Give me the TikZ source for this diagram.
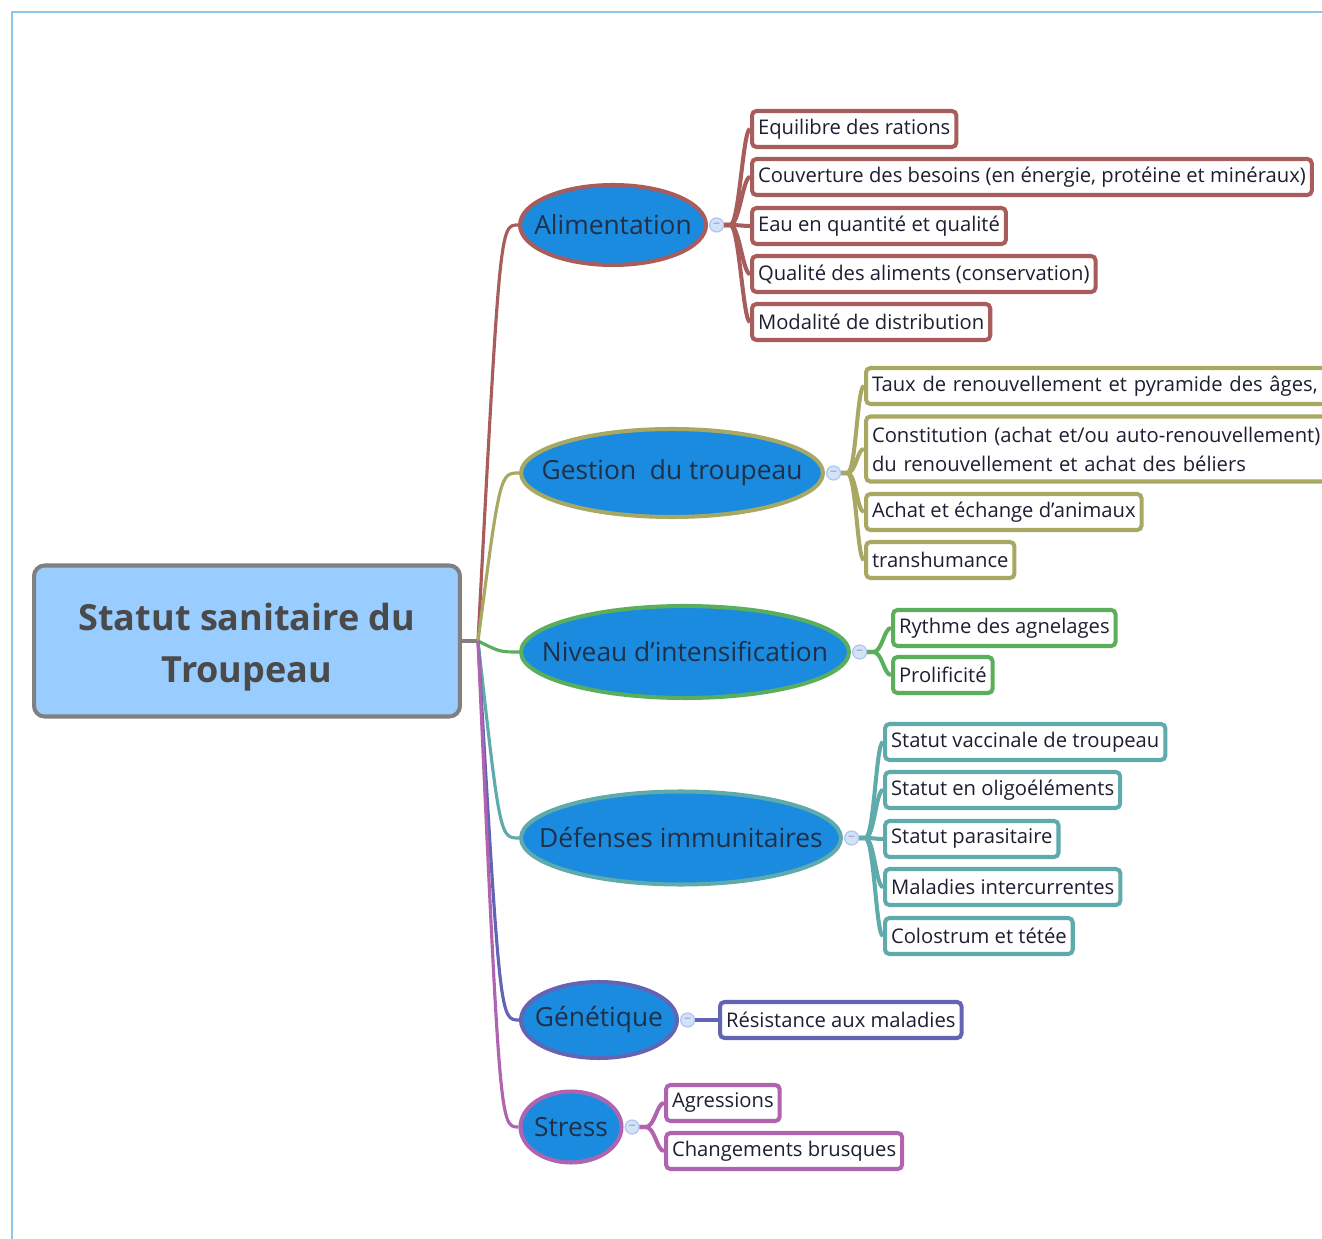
\documentclass[tikz,border=0pt]{standalone}
\usepackage{fontspec}
\setmainfont{Open Sans}
\usetikzlibrary{shapes.geometric, positioning}

\definecolor{framec}{HTML}{8EC5E8}
\definecolor{rootfill}{HTML}{99CCFF}
\definecolor{rootline}{HTML}{808080}
\definecolor{roottext}{HTML}{4A4A4A}
\definecolor{topicfill}{HTML}{1B8BE0}
\definecolor{topictext}{HTML}{1F3048}
\definecolor{leaftext}{HTML}{1E1E32}
\definecolor{foldfill}{HTML}{D3E1F9}
\definecolor{foldline}{HTML}{AFC6EE}
\definecolor{foldmark}{HTML}{8AA4D0}
\definecolor{alim}{HTML}{A85C5C}
\definecolor{gest}{HTML}{A8A862}
\definecolor{nive}{HTML}{5BAE5B}
\definecolor{defe}{HTML}{5FAAAA}
\definecolor{gene}{HTML}{6464B4}
\definecolor{stre}{HTML}{B064B0}

\tikzset{
  root/.style={draw=rootline, fill=rootfill, line width=2.3pt, rounded corners=6pt,
    minimum width=8.52cm, minimum height=3.02cm, align=center, text=roottext,
    font=\fontsize{20.5}{30}\selectfont\bfseries},
  theme/.style={ellipse, draw=#1, fill=topicfill, line width=2.3pt, inner sep=0pt,
    text=topictext, font=\fontsize{15}{17}\selectfont},
  leaf/.style={draw=#1, fill=white, line width=2.3pt, rounded corners=2.5pt, anchor=west,
    minimum height=0.72cm, inner xsep=0.12cm, text=leaftext, align=left,
    font=\fontsize{11.5}{16.5}\selectfont},
  fold/.style={circle, draw=foldline, fill=foldfill, line width=0.7pt, minimum size=0.28cm,
    inner sep=0pt, text=foldmark, font=\fontsize{8}{8}\selectfont},
  limb/.style={draw=#1, line width=1.8pt},
  twig/.style={draw=#1, line width=2.3pt}
}

\begin{document}
\begin{tikzpicture}[x=0.02cm, y=-0.02cm]
\useasboundingbox (0,0) rectangle (1322,1239);
\draw[framec, line width=1.2pt] (12,1239) -- (12,12) -- (1322,12);

\node[root] (root) at (247,641) {\rule{0pt}{22.5pt}Statut sanitaire du\\Troupeau};
\coordinate (hub) at (478,641);
\coordinate (bend) at (500,641);

\node[theme=alim, minimum width=3.72cm, minimum height=1.6cm] (alim) at (613,225) {\makebox[0pt]{Alimentation}};
\node[theme=gest, minimum width=6.04cm, minimum height=1.76cm] (gest) at (672,473) {\makebox[0pt]{Gestion~ du troupeau}};
\node[theme=nive, minimum width=6.56cm, minimum height=1.84cm] (nive) at (685,652) {\makebox[0pt]{Niveau d’intensification}};
\node[theme=defe, minimum width=6.4cm, minimum height=1.86cm] (defe) at (681,838) {\makebox[0pt]{Défenses immunitaires}};
\node[theme=gene, minimum width=3.12cm, minimum height=1.52cm] (gene) at (599,1020) {\makebox[0pt]{Génétique}};
\node[theme=stre, minimum width=2.02cm, minimum height=1.42cm] (stre) at (571,1127) {\makebox[0pt]{Stress}};

\node[fold, right=0.02cm of alim] (falim) {–};
\node[fold, right=0.02cm of gest] (fgest) {–};
\node[fold, right=0.02cm of nive] (fnive) {–};
\node[fold, right=0.02cm of defe] (fdefe) {–};
\node[fold, right=0.02cm of gene] (fgene) {–};
\node[fold, right=0.02cm of stre] (fstre) {–};

\node[leaf=alim] (alim1) at (750,129) {Equilibre des rations};
\node[leaf=alim] (alim2) at (750,177) {Couverture des besoins (en énergie, protéine et minéraux)};
\node[leaf=alim] (alim3) at (750,226) {Eau en quantité et qualité};
\node[leaf=alim] (alim4) at (750,274) {Qualité des aliments (conservation)};
\node[leaf=alim] (alim5) at (750,322) {Modalité de distribution};

\node[leaf=gest, text width=9.16cm] (gest1) at (864,386) {Taux de renouvellement et pyramide des âges,};
\node[leaf=gest, text width=9.16cm, minimum height=1.3cm] (gest2) at (864,449) {Constitution (achat et/ou auto-renouvellement)\\du renouvellement et achat des béliers};
\node[leaf=gest] (gest3) at (864,512) {Achat et échange d’animaux};
\node[leaf=gest] (gest4) at (864,560) {transhumance};

\node[leaf=nive] (nive1) at (891,628) {Rythme des agnelages};
\node[leaf=nive] (nive2) at (891,675) {Prolificité};

\node[leaf=defe] (defe1) at (883,742) {Statut vaccinale de troupeau};
\node[leaf=defe] (defe2) at (883,790) {Statut en oligoéléments};
\node[leaf=defe] (defe3) at (883,839) {Statut parasitaire};
\node[leaf=defe] (defe4) at (883,887) {Maladies intercurrentes};
\node[leaf=defe] (defe5) at (883,936) {Colostrum et tétée};

\node[leaf=gene] (gene1) at (718,1020) {Résistance aux maladies};

\node[leaf=stre] (stre1) at (664,1103) {Agressions};
\node[leaf=stre] (stre2) at (664,1151) {Changements brusques};

\draw[limb=rootline] (root.east) -- (hub);
\draw[limb=alim] (hub) .. controls (alim.west -| bend) .. (alim.west);
\draw[limb=gest] (hub) .. controls (gest.west -| bend) .. (gest.west);
\draw[limb=nive] (hub) .. controls (nive.west -| bend) .. (nive.west);
\draw[limb=defe] (hub) .. controls (defe.west -| bend) .. (defe.west);
\draw[limb=gene] (hub) .. controls (gene.west -| bend) .. (gene.west);
\draw[limb=stre] (hub) .. controls (stre.west -| bend) .. (stre.west);

\draw[twig=alim] (falim.east) -- ++(6,0) .. controls +(9,0) and +(-7,0) .. (alim1.west);
\draw[twig=alim] (falim.east) -- ++(6,0) .. controls +(9,0) and +(-7,0) .. (alim2.west);
\draw[twig=alim] (falim.east) -- ++(6,0) .. controls +(9,0) and +(-7,0) .. (alim3.west);
\draw[twig=alim] (falim.east) -- ++(6,0) .. controls +(9,0) and +(-7,0) .. (alim4.west);
\draw[twig=alim] (falim.east) -- ++(6,0) .. controls +(9,0) and +(-7,0) .. (alim5.west);

\draw[twig=gest] (fgest.east) -- ++(6,0) .. controls +(9,0) and +(-7,0) .. (gest1.west);
\draw[twig=gest] (fgest.east) -- ++(6,0) .. controls +(9,0) and +(-7,0) .. (gest2.west);
\draw[twig=gest] (fgest.east) -- ++(6,0) .. controls +(9,0) and +(-7,0) .. (gest3.west);
\draw[twig=gest] (fgest.east) -- ++(6,0) .. controls +(9,0) and +(-7,0) .. (gest4.west);

\draw[twig=nive] (fnive.east) -- ++(6,0) .. controls +(9,0) and +(-7,0) .. (nive1.west);
\draw[twig=nive] (fnive.east) -- ++(6,0) .. controls +(9,0) and +(-7,0) .. (nive2.west);

\draw[twig=defe] (fdefe.east) -- ++(6,0) .. controls +(9,0) and +(-7,0) .. (defe1.west);
\draw[twig=defe] (fdefe.east) -- ++(6,0) .. controls +(9,0) and +(-7,0) .. (defe2.west);
\draw[twig=defe] (fdefe.east) -- ++(6,0) .. controls +(9,0) and +(-7,0) .. (defe3.west);
\draw[twig=defe] (fdefe.east) -- ++(6,0) .. controls +(9,0) and +(-7,0) .. (defe4.west);
\draw[twig=defe] (fdefe.east) -- ++(6,0) .. controls +(9,0) and +(-7,0) .. (defe5.west);

\draw[twig=gene] (fgene.east) -- (gene1.west);

\draw[twig=stre] (fstre.east) -- ++(6,0) .. controls +(9,0) and +(-7,0) .. (stre1.west);
\draw[twig=stre] (fstre.east) -- ++(6,0) .. controls +(9,0) and +(-7,0) .. (stre2.west);
\end{tikzpicture}
\end{document}
